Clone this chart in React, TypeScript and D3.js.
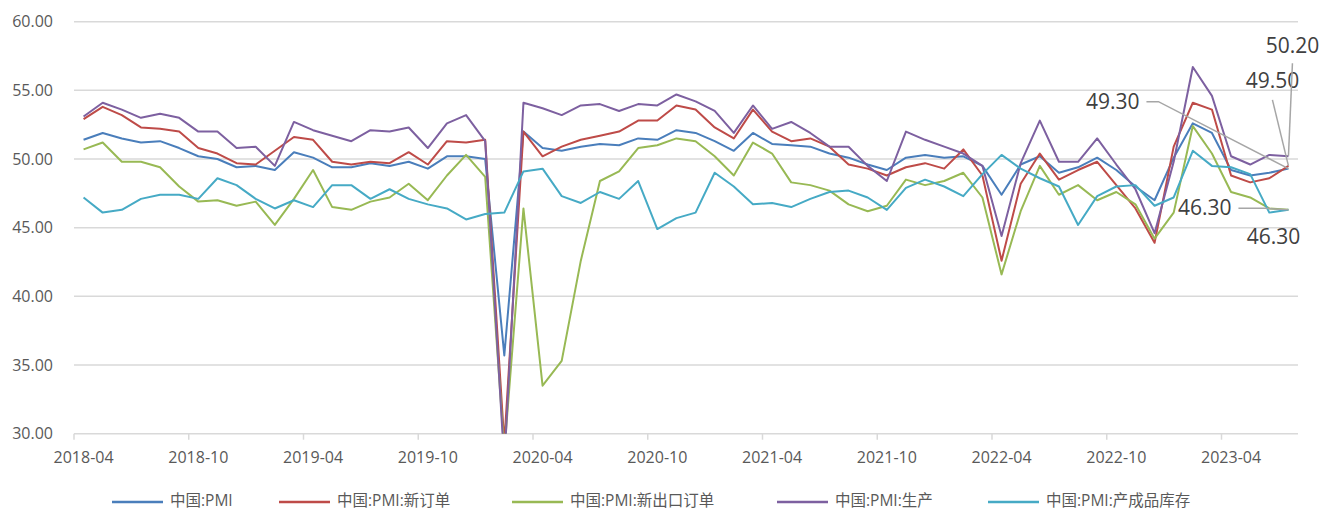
import React from "react";
import * as d3 from "d3";

// ---- data ----
const startYear = 2018;
const startMonth = 4;
const monthCount = 64; // 2018-04 .. 2023-07
const months: string[] = Array.from({ length: monthCount }, (_, i) => {
  const m = startMonth - 1 + i;
  const y = startYear + Math.floor(m / 12);
  const mm = (m % 12) + 1;
  return `${y}-${mm < 10 ? "0" + mm : mm}`;
});

const seriesNames = [
  "中国:PMI",
  "中国:PMI:新订单",
  "中国:PMI:新出口订单",
  "中国:PMI:生产",
  "中国:PMI:产成品库存",
];

const pmi = [
  51.4, 51.9, 51.5, 51.2, 51.3, 50.8, 50.2, 50.0, 49.4,
  49.5, 49.2, 50.5, 50.1, 49.4, 49.4, 49.7, 49.5, 49.8, 49.3, 50.2, 50.2,
  50.0, 35.7, 52.0, 50.8, 50.6, 50.9, 51.1, 51.0, 51.5, 51.4, 52.1, 51.9,
  51.3, 50.6, 51.9, 51.1, 51.0, 50.9, 50.4, 50.1, 49.6, 49.2, 50.1, 50.3,
  50.1, 50.2, 49.5, 47.4, 49.6, 50.2, 49.0, 49.4, 50.1, 49.2, 48.0, 47.0,
  50.1, 52.6, 51.9, 49.2, 48.8, 49.0, 49.3,
];
const newOrders = [
  52.9, 53.8, 53.2, 52.3, 52.2, 52.0, 50.8, 50.4, 49.7,
  49.6, 50.6, 51.6, 51.4, 49.8, 49.6, 49.8, 49.7, 50.5, 49.6, 51.3, 51.2,
  51.4, 29.3, 52.0, 50.2, 50.9, 51.4, 51.7, 52.0, 52.8, 52.8, 53.9, 53.6,
  52.3, 51.5, 53.6, 52.0, 51.3, 51.5, 50.9, 49.6, 49.3, 48.8, 49.4, 49.7,
  49.3, 50.7, 48.8, 42.6, 48.2, 50.4, 48.5, 49.2, 49.8, 48.1, 46.4, 43.9,
  50.9, 54.1, 53.6, 48.8, 48.3, 48.6, 49.5,
];
const newExportOrders = [
  50.7, 51.2, 49.8, 49.8, 49.4, 48.0, 46.9, 47.0, 46.6,
  46.9, 45.2, 47.1, 49.2, 46.5, 46.3, 46.9, 47.2, 48.2, 47.0, 48.8, 50.3,
  48.7, 28.7, 46.4, 33.5, 35.3, 42.6, 48.4, 49.1, 50.8, 51.0, 51.5, 51.3,
  50.2, 48.8, 51.2, 50.4, 48.3, 48.1, 47.7, 46.7, 46.2, 46.6, 48.5, 48.1,
  48.4, 49.0, 47.2, 41.6, 46.2, 49.5, 47.4, 48.1, 47.0, 47.6, 46.7, 44.2,
  46.1, 52.4, 50.4, 47.6, 47.2, 46.4, 46.3,
];
const production = [
  53.1, 54.1, 53.6, 53.0, 53.3, 53.0, 52.0, 52.0, 50.8,
  50.9, 49.5, 52.7, 52.1, 51.7, 51.3, 52.1, 52.0, 52.3, 50.8, 52.6, 53.2,
  51.3, 27.8, 54.1, 53.7, 53.2, 53.9, 54.0, 53.5, 54.0, 53.9, 54.7, 54.2,
  53.5, 51.9, 53.9, 52.2, 52.7, 51.9, 50.9, 50.9, 49.5, 48.4, 52.0, 51.4,
  50.9, 50.4, 49.5, 44.4, 49.7, 52.8, 49.8, 49.8, 51.5, 49.6, 47.8, 44.6,
  49.8, 56.7, 54.6, 50.2, 49.6, 50.3, 50.2,
];
const finishedInventory = [
  47.2, 46.1, 46.3, 47.1, 47.4, 47.4, 47.1, 48.6, 48.1,
  47.1, 46.4, 47.0, 46.5, 48.1, 48.1, 47.1, 47.8, 47.1, 46.7, 46.4, 45.6,
  46.0, 46.1, 49.1, 49.3, 47.3, 46.8, 47.6, 47.1, 48.4, 44.9, 45.7, 46.1,
  49.0, 48.0, 46.7, 46.8, 46.5, 47.1, 47.6, 47.7, 47.2, 46.3, 47.9, 48.5,
  48.0, 47.3, 48.9, 50.3, 49.3, 48.6, 48.0, 45.2, 47.3, 48.0, 48.1, 46.6,
  47.2, 50.6, 49.5, 49.4, 48.9, 46.1, 46.3,
];

const yTicks = [30, 35, 40, 45, 50, 55, 60];
const xLabelEvery = 6;

const seriesValues = [pmi, newOrders, newExportOrders, production, finishedInventory];
const colors = ["#4A7EBB", "#BE4B48", "#98B954", "#7D60A0", "#46AAC5"];

// end-of-series data labels: offsets from the last point; leader path offsets
const endLabels = [
  { s: 0, dx: -149, dy: -60, anchor: "end", leader: [[-142, -67], [-130, -67]] },
  { s: 1, dx: -16, dy: -77.5, anchor: "middle", leader: [[-16, -66]] },
  { s: 2, dx: -57, dy: 5.5, anchor: "end", leader: [[-50, -1.5], [-23, -1.5]] },
  { s: 3, dx: 4, dy: -103, anchor: "middle", leader: [[4, -93]] },
  { s: 4, dx: -15, dy: 34.5, anchor: "middle", leader: [] as number[][] },
];

const legendX = [112, 279, 512, 777, 988];

export default function App() {
  const W = 1320;
  const H = 512;
  const left = 74;
  const right = 1298;
  const top = 21.7;
  const bottom = 433.7;

  const x = d3.scaleBand<string>().domain(months).range([left, right]).padding(0);
  const bw = x.bandwidth();
  const cx = (i: number) => (x(months[i]) as number) + bw / 2;
  const y = d3.scaleLinear().domain([30, 60]).range([bottom, top]);

  const line = d3
    .line<number>()
    .x((_, i) => cx(i))
    .y((v) => y(v));

  const font = "'Open Sans', 'Noto Sans CJK SC', sans-serif";
  const labelIdx = months.map((_, i) => i).filter((i) => i % xLabelEvery === 0);
  const last = monthCount - 1;

  return (
    <svg
      width={W}
      height={H}
      style={{ position: "absolute", left: 0, top: 0, background: "#fff" }}
      fontFamily={font}
    >
      <defs>
        <clipPath id="plotClip">
          <rect x={left} y={top - 2} width={right - left} height={bottom - top + 2} />
        </clipPath>
      </defs>
      {yTicks.map((t) => (
        <g key={t}>
          <line x1={left} x2={right} y1={y(t)} y2={y(t)} stroke="#D9D9D9" strokeWidth={1.5} />
          <text x={53} y={y(t)} dy="0.35em" textAnchor="end" fontSize={16} fill="#595959">
            {t.toFixed(2)}
          </text>
        </g>
      ))}
      {labelIdx.map((i) => (
        <g key={i}>
          <line
            x1={x(months[i]) as number}
            x2={x(months[i]) as number}
            y1={bottom}
            y2={bottom + 6}
            stroke="#D9D9D9"
            strokeWidth={1.5}
          />
          <text x={cx(i)} y={457} dy="0.35em" textAnchor="middle" fontSize={16} fill="#595959">
            {months[i]}
          </text>
        </g>
      ))}
      <g clipPath="url(#plotClip)">
        {seriesValues.map((vals, s) => (
          <path
            key={s}
            d={line(vals) || ""}
            fill="none"
            stroke={colors[s]}
            strokeWidth={2}
            strokeLinejoin="round"
          />
        ))}
      </g>
      {endLabels.map((lb, k) => {
        const px = cx(last);
        const py = y(seriesValues[lb.s][last]);
        const pts = [...lb.leader.map(([a, b]) => [px + a, py + b]), [px, py]];
        return (
          <g key={k}>
            {pts.length > 1 && (
              <polyline
                points={pts.map((p) => p.join(",")).join(" ")}
                fill="none"
                stroke="#A6A6A6"
                strokeWidth={1.5}
              />
            )}
            <text
              x={px + lb.dx}
              y={py + lb.dy}
              textAnchor={lb.anchor as any}
              fontSize={21}
              fill="#404040"
            >
              {seriesValues[lb.s][last].toFixed(2)}
            </text>
          </g>
        );
      })}
      {seriesNames.map((name, s) => (
        <g key={name}>
          <line
            x1={legendX[s]}
            x2={legendX[s] + 51}
            y1={502}
            y2={502}
            stroke={colors[s]}
            strokeWidth={2.5}
          />
          <text x={legendX[s] + 58} y={501} dy="0.35em" fontSize={15.5} fill="#595959">
            {name}
          </text>
        </g>
      ))}
    </svg>
  );
}
